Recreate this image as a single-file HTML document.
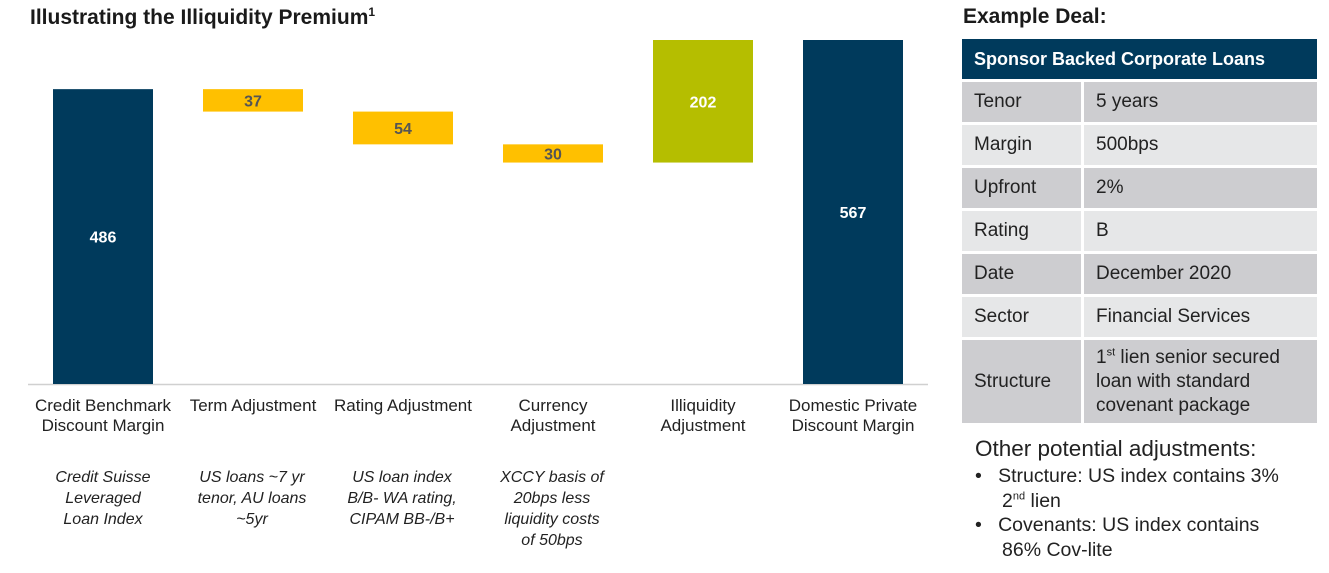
<!DOCTYPE html>
<html><head><meta charset="utf-8"><style>
body{margin:0;width:1329px;height:573px;background:#fff;font-family:"Liberation Sans",Arial,sans-serif;position:relative;overflow:hidden;color:#222}
.abs{position:absolute}
.title{left:30px;top:6px;font-size:21px;font-weight:bold;color:#1a1a1a}
.cat{font-size:17px;text-align:center;width:150px;line-height:20px;color:#222}
.note{font-size:16px;font-style:italic;text-align:center;width:150px;line-height:21px;color:#222}
table{border-collapse:separate;border-spacing:3px;}
.tbl{left:959px;top:36px;width:361px}
td{font-size:19px;padding:0 12px;color:#222}
.hdr{background:#003a5c;color:#fff;font-weight:bold;height:40px;font-size:18px}
.d{background:#cdcdd0}.l{background:#e6e7e8}
sup{line-height:0}
</style></head><body>
<div class="abs title">Illustrating the Illiquidity Premium<sup style="font-size:12px">1</sup></div>
<svg class="abs" style="left:0;top:0" width="940" height="573" id="chart"></svg>
<div class="abs note" style="left:28px;top:467px">Credit Suisse<br>Leveraged<br>Loan Index</div>
<div class="abs note" style="left:177px;top:467px">US loans ~7 yr<br>tenor, AU loans<br>~5yr</div>
<div class="abs note" style="left:327px;top:467px">US loan index<br>B/B- WA rating,<br>CIPAM BB-/B+</div>
<div class="abs note" style="left:477px;top:467px">XCCY basis of<br>20bps less<br>liquidity costs<br>of 50bps</div>
<div class="abs" style="left:963px;top:5px;font-size:21px;font-weight:bold;color:#1a1a1a">Example Deal:</div>
<table class="abs tbl">
<tr><td colspan="2" class="hdr">Sponsor Backed Corporate Loans</td></tr>
<tr style="height:40px"><td class="d" style="width:95px">Tenor</td><td class="d">5 years</td></tr>
<tr style="height:40px"><td class="l">Margin</td><td class="l">500bps</td></tr>
<tr style="height:40px"><td class="d">Upfront</td><td class="d">2%</td></tr>
<tr style="height:40px"><td class="l">Rating</td><td class="l">B</td></tr>
<tr style="height:40px"><td class="d">Date</td><td class="d">December 2020</td></tr>
<tr style="height:40px"><td class="l">Sector</td><td class="l">Financial Services</td></tr>
<tr style="height:83px"><td class="d">Structure</td><td class="d" style="line-height:24px">1<sup style="font-size:11px">st</sup> lien senior secured loan with standard covenant package</td></tr>
</table>
<div class="abs" style="left:975px;top:436px;font-size:22.5px;color:#222">Other potential adjustments:</div>
<div class="abs" style="left:975px;top:464px;font-size:19.5px;line-height:24.5px;color:#222;width:354px">
<div style="padding-left:27px;text-indent:-27px">•&nbsp;&nbsp;&nbsp;Structure: US index contains 3%<br>2<sup style="font-size:11px">nd</sup> lien</div>
<div style="padding-left:27px;text-indent:-27px">•&nbsp;&nbsp;&nbsp;Covenants: US index contains<br>86% Cov-lite</div>
</div>
<script>
const categories=["Credit Benchmark Discount Margin","Term Adjustment","Rating Adjustment","Currency Adjustment","Illiquidity Adjustment","Domestic Private Discount Margin"];
const values=[486,-37,-54,-30,202,567];
const kinds=["total","delta","delta","delta","delta","total"];
const labels=["486","37","54","30","202","567"];
const catLines=[["Credit Benchmark","Discount Margin"],["Term Adjustment"],["Rating Adjustment"],["Currency","Adjustment"],["Illiquidity","Adjustment"],["Domestic Private","Discount Margin"]];
const svg=document.getElementById('chart');const NS="http://www.w3.org/2000/svg";
const base=384,scale=344/567;
const y=v=>base-v*scale;const x=i=>103+i*150;
let run=0;
const ax=document.createElementNS(NS,'line');
ax.setAttribute('x1',28);ax.setAttribute('x2',928);ax.setAttribute('y1',base+0.5);ax.setAttribute('y2',base+0.5);ax.setAttribute('stroke','#d0d0d0');ax.setAttribute('stroke-width',1.5);


svg.appendChild(ax);
values.forEach((v,i)=>{
 let a,b,col,tc;
 if(kinds[i]==="total"){a=0;b=v;run=v;col="#003a5c";tc="#fff";}
 else{a=run;b=run+v;run=b;col=v<0?"#ffc000":"#b5be00";tc=v<0?"#555":"#fff";}
 const top=y(Math.max(a,b)),bot=y(Math.min(a,b));
 const r=document.createElementNS(NS,'rect');
 r.setAttribute('x',x(i)-50);r.setAttribute('width',100);r.setAttribute('y',top);r.setAttribute('height',bot-top);r.setAttribute('fill',col);
 
 
 svg.appendChild(r);
 const t=document.createElementNS(NS,'text');
 t.setAttribute('x',x(i));t.setAttribute('y',(top+bot)/2+6);t.setAttribute('text-anchor','middle');t.setAttribute('font-size','16');t.setAttribute('font-weight','bold');t.setAttribute('fill',tc);t.setAttribute('font-family','Liberation Sans, sans-serif');
 t.textContent=labels[i];
 
 
 svg.appendChild(t);
 const d=document.createElement('div');d.className='abs cat';d.style.left=(x(i)-75)+'px';d.style.top='396px';
 d.innerHTML=catLines[i].join('<br>');
 
 
 document.body.appendChild(d);
});
</script>
</body></html>
